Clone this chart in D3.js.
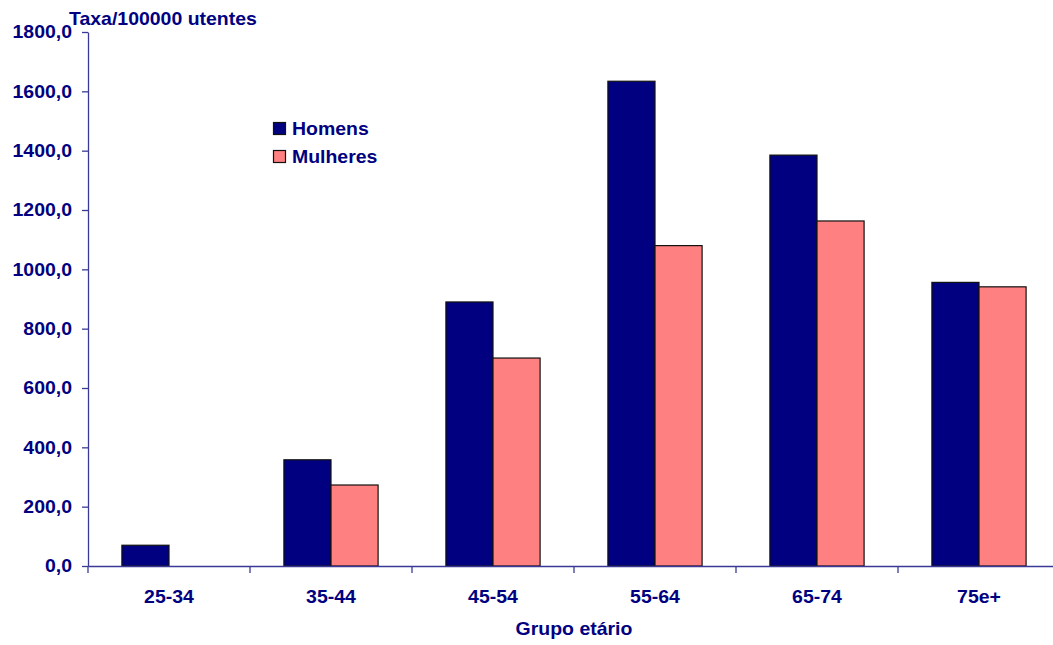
<!DOCTYPE html>
<html>
<head>
<meta charset="utf-8">
<script src="https://cdn.jsdelivr.net/npm/d3@7/dist/d3.min.js"></script>
<style>
  html, body { margin: 0; padding: 0; background: #fff; }
  svg text {
    font-family: "Liberation Sans", Arial, sans-serif; font-weight: bold; fill: #000080; font-size: 17.7px;
    transform-box: fill-box; transform: scaleX(1.1);
  }
  svg text.a-start { transform-origin: left center; }
  svg text.a-mid { transform-origin: center center; }
  svg text.a-end { transform-origin: right center; }
</style>
</head>
<body>
<svg id="chart" width="1053" height="645"></svg>
<script>
// Incidence rate per 100 000 users, by age group and sex
const groups = ["25-34", "35-44", "45-54", "55-64", "65-74", "75e+"];
const series = ["Homens", "Mulheres"];
const homens = [70, 358, 890, 1634, 1385, 956];
const mulheres = [0, 273, 701, 1080, 1163, 941];
const yTicks = [0, 200, 400, 600, 800, 1000, 1200, 1400, 1600, 1800];
const colors = ["#000080", "#FF8080"];

const svg = d3.select("#chart");
const plotLeft = 88, plotRight = 1060, plotTop = 32, plotBottom = 566;
const axisColor = "#3a3a96";

const x0 = d3.scaleBand().domain(groups).range([plotLeft, plotRight]).paddingInner(0).paddingOuter(0);
const x1 = d3.scaleBand().domain(series).range([0, x0.bandwidth()]).paddingInner(0).paddingOuter(0.72);
const y = d3.scaleLinear().domain([0, 1800]).range([plotBottom, plotTop]);

const fmt = d => d.toFixed(1).replace(".", ",");

// Bars
const rows = groups.map((g, i) => ({ group: g, values: [homens[i], mulheres[i]] }));
const gBars = svg.append("g");
rows.forEach(r => {
  r.values.forEach((v, j) => {
    if (v <= 0) return;
    gBars.append("rect")
      .attr("x", x0(r.group) + x1(series[j]))
      .attr("y", y(v))
      .attr("width", x1.bandwidth())
      .attr("height", y(0) - y(v))
      .attr("fill", colors[j])
      .attr("stroke", "#111")
      .attr("stroke-width", 1.2);
  });
});

// Y axis
const yAxis = svg.append("g")
  .attr("transform", `translate(${plotLeft},0)`)
  .call(d3.axisLeft(y).tickValues(yTicks).tickFormat(fmt).tickSizeInner(6).tickSizeOuter(0).tickPadding(10));
yAxis.selectAll("path, line").attr("stroke", axisColor).attr("stroke-width", 1.3);
yAxis.attr("font-size", null).attr("font-family", null);
yAxis.selectAll("text").attr("fill", "#000080").attr("class", "a-end");

// X axis with labels centred in each group
const xAxis = svg.append("g")
  .attr("transform", `translate(0,${plotBottom})`)
  .call(d3.axisBottom(x0).tickSizeInner(0).tickSizeOuter(0).tickPadding(24));
xAxis.select("path").attr("stroke", axisColor).attr("stroke-width", 1.3);
xAxis.selectAll("line").remove();
xAxis.attr("font-size", null).attr("font-family", null);
xAxis.selectAll("text").attr("fill", "#000080").attr("class", "a-mid");

// Group boundary ticks
const bounds = groups.map(g => x0(g)).concat([x0(groups[groups.length - 1]) + x0.bandwidth()]);
svg.append("g").selectAll("line").data(bounds).join("line")
  .attr("x1", d => d).attr("x2", d => d)
  .attr("y1", plotBottom).attr("y2", plotBottom + 7)
  .attr("stroke", axisColor).attr("stroke-width", 1.3);

// Titles
svg.append("text").attr("class", "a-start").attr("x", 69).attr("y", 25).text("Taxa/100000 utentes");
svg.append("text").attr("class", "a-mid").attr("x", (plotLeft + plotRight) / 2).attr("y", 635)
  .attr("text-anchor", "middle").text("Grupo etário");

// Legend
const legend = svg.append("g");
series.forEach((s, i) => {
  const ly = 122.5 + i * 28;
  legend.append("rect").attr("x", 273.5).attr("y", ly).attr("width", 12).attr("height", 12)
    .attr("fill", colors[i]).attr("stroke", "#111").attr("stroke-width", 1.2);
  legend.append("text").attr("class", "a-start").attr("x", 292).attr("y", ly + 13).text(s);
});
</script>
</body>
</html>
